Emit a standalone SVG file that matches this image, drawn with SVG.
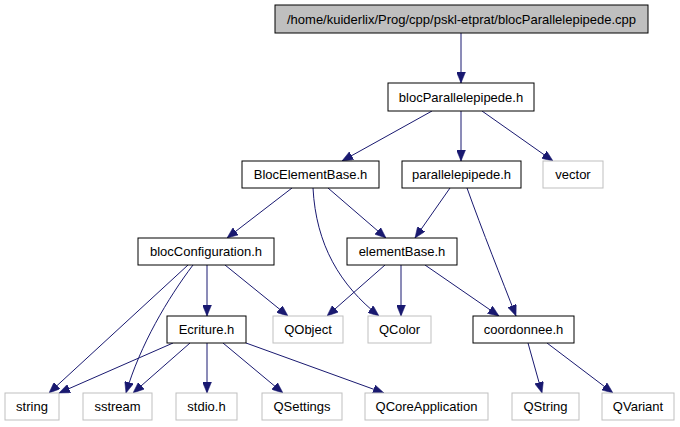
<svg xmlns="http://www.w3.org/2000/svg" width="680" height="427" viewBox="0 0 680 427">
<style>
.n rect{fill:#fff;stroke:#000;stroke-width:1}
.x rect{fill:#fff;stroke:#bfbfbf;stroke-width:1}
text{font-family:"Liberation Sans",Arial,sans-serif;font-size:13px;text-anchor:middle;fill:#000}
.e path{fill:none;stroke:#191970;stroke-width:1;marker-end:url(#a)}
</style>
<defs>
<marker id="a" markerUnits="userSpaceOnUse" markerWidth="11" markerHeight="9" refX="11" refY="4.5" orient="auto">
<path d="M0,0 L11,4.5 L0,9 z" fill="#191970" stroke="#191970" stroke-width="0.5"/>
</marker>
</defs>
<rect width="680" height="427" fill="#fff"/>
<g class="e" id="edges">
<path d="M461,33 L461,83"/>
<path d="M432,111 L342,161"/>
<path d="M461,111 L461,161"/>
<path d="M482,111 L553,161"/>
<path d="M292,188 L227,238"/>
<path d="M328,188 L386,238"/>
<path d="M313,188 C316,245 340,285 379,316"/>
<path d="M450,188 L415,238"/>
<path d="M467,188 C482,230 502,280 516,316"/>
<path d="M207,265 L207,316"/>
<path d="M225,265 L288,316"/>
<path d="M188,265 L49,393"/>
<path d="M193,265 C168,298 140,345 126,393"/>
<path d="M173,343 L59,393"/>
<path d="M190,343 L133,393"/>
<path d="M207,343 L207,393"/>
<path d="M223,343 L283,393"/>
<path d="M246,343 L384,393"/>
<path d="M385,265 L327,316"/>
<path d="M401,265 L401,316"/>
<path d="M425,265 L499,316"/>
<path d="M528,343 L542,393"/>
<path d="M547,343 L613,393"/>
</g>
<g class="n" id="n_cpp"><rect x="275" y="5" width="373" height="28" style="fill:#bfbfbf"/><text x="461.5" y="23.5">/home/kuiderlix/Prog/cpp/pskl-etprat/blocParallelepipede.cpp</text></g>
<g class="n" id="n_bp"><rect x="388" y="83" width="146" height="28"/><text x="461" y="101.5">blocParallelepipede.h</text></g>
<g class="n" id="n_beb"><rect x="242" y="161" width="137" height="27"/><text x="310.5" y="179">BlocElementBase.h</text></g>
<g class="n" id="n_pp"><rect x="402" y="161" width="119" height="27"/><text x="461.5" y="179">parallelepipede.h</text></g>
<g class="x" id="n_vector"><rect x="543" y="161" width="60" height="27"/><text x="573" y="179">vector</text></g>
<g class="n" id="n_bc"><rect x="138" y="238" width="136" height="27"/><text x="206" y="256">blocConfiguration.h</text></g>
<g class="n" id="n_eb"><rect x="347" y="238" width="110" height="27"/><text x="402" y="256">elementBase.h</text></g>
<g class="n" id="n_ecr"><rect x="167" y="316" width="79" height="27"/><text x="206.5" y="334">Ecriture.h</text></g>
<g class="x" id="n_qobject"><rect x="273" y="316" width="70" height="27"/><text x="308" y="334">QObject</text></g>
<g class="x" id="n_qcolor"><rect x="368" y="316" width="63" height="27"/><text x="399.5" y="334">QColor</text></g>
<g class="n" id="n_coord"><rect x="473" y="316" width="101" height="27"/><text x="523.5" y="334">coordonnee.h</text></g>
<g class="x" id="n_string"><rect x="5" y="393" width="54" height="27"/><text x="32" y="411">string</text></g>
<g class="x" id="n_sstream"><rect x="83" y="393" width="69" height="27"/><text x="117.5" y="411">sstream</text></g>
<g class="x" id="n_stdio"><rect x="176" y="393" width="61" height="27"/><text x="206.5" y="411">stdio.h</text></g>
<g class="x" id="n_qsettings"><rect x="262" y="393" width="80" height="27"/><text x="302" y="411">QSettings</text></g>
<g class="x" id="n_qcore"><rect x="365" y="393" width="123" height="27"/><text x="426.5" y="411">QCoreApplication</text></g>
<g class="x" id="n_qstring"><rect x="512" y="393" width="67" height="27"/><text x="545.5" y="411">QString</text></g>
<g class="x" id="n_qvariant"><rect x="602" y="393" width="72" height="27"/><text x="638" y="411">QVariant</text></g>
</svg>
